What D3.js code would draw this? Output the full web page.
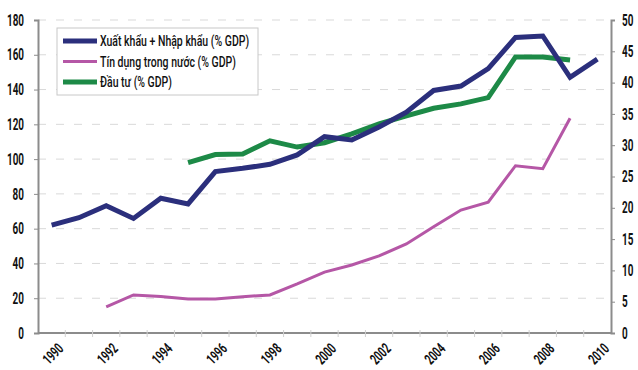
<!DOCTYPE html>
<html>
<head>
<meta charset="utf-8">
<script src="https://cdn.jsdelivr.net/npm/d3@7"></script>
<style>
body { margin: 0; background: #fff; }
text { font-family: Roboto, "Liberation Sans", sans-serif; fill: #111; }
</style>
</head>
<body>
<div id="chart"></div>
<script>
var years = d3.range(1990, 2011);

// Xuat khau + Nhap khau (% GDP), left axis
var tradeYears = d3.range(1990, 2011);
var trade = [62, 66.3, 73.2, 65.9, 77.5, 74.2, 92.8, 94.7, 97, 102.4, 112.9,
             111, 118.5, 127, 139.5, 142, 152, 170, 170.8, 147, 157.5];

// Tin dung trong nuoc (% GDP), left axis
var creditYears = d3.range(1992, 2010);
var credit = [15, 21.9, 21, 19.6, 19.6, 20.9, 21.9, 28.2, 35, 39.1, 44.3,
              51.2, 61.1, 70.7, 75.2, 96.2, 94.5, 123.5];

// Dau tu (% GDP), right axis
var investYears = d3.range(1995, 2010);
var invest = [27.2, 28.5, 28.6, 30.7, 29.7, 30.4, 31.8, 33.4, 34.7, 35.9,
              36.6, 37.6, 44.1, 44.1, 43.6];

var leftTicks = d3.range(0, 181, 20);
var rightTicks = d3.range(0, 51, 5);
var legendLabels = ["Xuất khẩu + Nhập khẩu (% GDP)", "Tín dụng trong nước (% GDP)", "Đầu tư (% GDP)"];
var colors = ["#2b2f7c", "#b557a6", "#1d8a47"];

var fullwidth = 638, fullheight = 370;
var margin = {top: 20, right: 27, bottom: 37, left: 38},
    width = fullwidth - margin.left - margin.right,
    height = fullheight - margin.top - margin.bottom;

// no condensed font installed, so squeeze text horizontally
var squeeze = 0.62;

var svg = d3.select("#chart").append("svg")
    .attr("width", fullwidth)
    .attr("height", fullheight)
    .append("g")
    .attr("transform", "translate(" + margin.left + "," + margin.top + ")");

var x = d3.scaleBand().domain(years).range([0, width]);
var yL = d3.scaleLinear().domain([0, 180]).range([height, 0]);
var yR = d3.scaleLinear().domain([0, 50]).range([height, 0]);
var cx = function(yr) { return x(yr) + x.bandwidth() / 2; };

// grid
svg.append("g").selectAll("line.grid")
    .data(leftTicks.slice(1))
    .enter().append("line")
    .attr("x1", 0).attr("x2", width)
    .attr("y1", function(d) { return yL(d); })
    .attr("y2", function(d) { return yL(d); })
    .attr("stroke", "#d9d9d9")
    .attr("stroke-width", 1)
    .attr("stroke-dasharray", "8,10");

// left axis
var yAxisL = svg.append("g").call(d3.axisLeft(yL).tickValues(leftTicks).tickSize(4));
yAxisL.select(".domain").attr("stroke", "#8c8c8c").attr("stroke-width", 2);
yAxisL.selectAll(".tick line").attr("stroke", "#8c8c8c");
yAxisL.selectAll(".tick text")
    .attr("x", 0)
    .attr("transform", "translate(-14,0)scale(" + squeeze + ",1)")
    .style("font-size", "16px").style("font-weight", "bold");

// right axis
var yAxisR = svg.append("g").attr("transform", "translate(" + width + ",0)")
    .call(d3.axisRight(yR).tickValues(rightTicks).tickSize(4));
yAxisR.select(".domain").attr("stroke", "#8c8c8c").attr("stroke-width", 2);
yAxisR.selectAll(".tick line").attr("stroke", "#8c8c8c");
yAxisR.selectAll(".tick text")
    .attr("x", 0)
    .attr("transform", "translate(11,0)scale(" + squeeze + ",1)")
    .style("font-size", "16px").style("font-weight", "bold");

// x axis
var xAxis = svg.append("g").attr("transform", "translate(0," + height + ")");
xAxis.append("line").attr("x1", 0).attr("x2", width)
    .attr("stroke", "#8c8c8c").attr("stroke-width", 2);
xAxis.selectAll("line.tk")
    .data(years.slice(1))
    .enter().append("line")
    .attr("x1", function(d) { return x(d); })
    .attr("x2", function(d) { return x(d); })
    .attr("y1", -3).attr("y2", 4)
    .attr("stroke", "#d0d0d0");
xAxis.selectAll("text.yr")
    .data(years.filter(function(d) { return d % 2 === 0; }))
    .enter().append("text")
    .attr("class", "yr")
    .attr("transform", function(d) {
        return "translate(" + (cx(d) + 9) + ",13)rotate(-45)";
    })
    .attr("text-anchor", "end")
    .attr("dy", "0.35em")
    .attr("textLength", 22)
    .attr("lengthAdjust", "spacingAndGlyphs")
    .style("font-size", "15px")
    .style("font-weight", "bold")
    .text(function(d) { return d; });

// lines
var lineL = d3.line().x(function(d) { return cx(d[0]); }).y(function(d) { return yL(d[1]); });
var lineR = d3.line().x(function(d) { return cx(d[0]); }).y(function(d) { return yR(d[1]); });

svg.append("path")
    .datum(d3.zip(creditYears, credit))
    .attr("fill", "none").attr("stroke", colors[1]).attr("stroke-width", 3)
    .attr("d", lineL);

svg.append("path")
    .datum(d3.zip(investYears, invest))
    .attr("fill", "none").attr("stroke", colors[2]).attr("stroke-width", 5)
    .attr("d", lineR);

svg.append("path")
    .datum(d3.zip(tradeYears, trade))
    .attr("fill", "none").attr("stroke", colors[0]).attr("stroke-width", 5)
    .attr("d", lineL);

// legend
var legend = svg.append("g").attr("transform", "translate(19,8)");
legend.append("rect").attr("width", 201).attr("height", 67)
    .attr("fill", "#fff").attr("stroke", "#c8c8c8");
var items = legend.selectAll("g.item")
    .data(legendLabels)
    .enter().append("g")
    .attr("transform", function(d, i) { return "translate(0," + (13 + i * 20.5) + ")"; });
items.append("line")
    .attr("x1", 6).attr("x2", 40)
    .attr("stroke", function(d, i) { return colors[i]; })
    .attr("stroke-width", function(d, i) { return i === 1 ? 3 : 5; });
items.append("text")
    .attr("transform", "translate(43,0)scale(0.7,1)")
    .attr("dy", "0.35em")
    .style("font-size", "15px")
    .style("font-weight", "500")
    .text(function(d) { return d; });
</script>
</body>
</html>
